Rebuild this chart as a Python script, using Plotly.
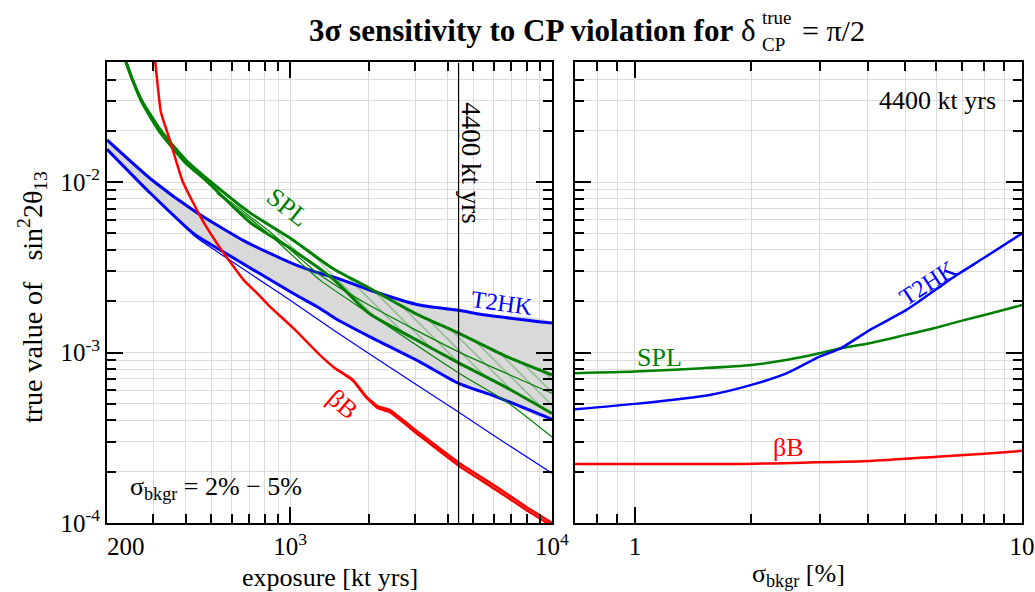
import numpy as np
import plotly.graph_objects as go

FONT = "Liberation Serif, Times New Roman, serif"
BLUE, GREEN, RED = "#0000ff", "#008000", "#ff0000"
GRID = "#dcdcdc"

# ---- left panel: exposure [kt yrs] -> true value of sin^2 2theta13
t2hk_hi_x = [200, 297, 434, 673, 1045, 1298, 1484, 2012, 3116, 4397, 5585, 10000]
t2hk_hi_y = [0.0177, 0.0103, 0.00673, 0.00449, 0.00328, 0.00292, 0.00276, 0.00233, 0.0019, 0.00177, 0.00166, 0.00149]

t2hk_lo_x = [200, 297, 434, 541, 1045, 1298, 1484, 2012, 3116, 4397, 6100, 10000]
t2hk_lo_y = [0.0156, 0.00843, 0.00491, 0.0040, 0.00219, 0.00182, 0.00159, 0.00124, 0.000885, 0.00066, 0.000552, 0.000406]

t2hk_thin_x = [200, 297, 434, 541, 929, 1459, 2012, 4424, 6653, 10000]
t2hk_thin_y = [0.0156, 0.0084, 0.0048, 0.0038, 0.00219, 0.00136, 0.00098, 0.000445, 0.000294, 0.000196]

spl_a_x = [232, 250, 272, 322, 400, 500, 704, 1000, 1462, 2000, 3000, 4400, 6500, 10000]
spl_a_y = [0.055, 0.04, 0.03, 0.02, 0.0135, 0.01, 0.0066, 0.0047, 0.0031, 0.0024, 0.0017, 0.0013, 0.00097, 0.00074]

spl_b_x = [232, 250, 270, 316, 395, 485, 704, 1000, 1462, 2000, 3000, 4400, 6500, 10000]
spl_b_y = [0.055, 0.04, 0.03, 0.02, 0.0132, 0.01, 0.0058, 0.0041, 0.0027, 0.0017, 0.0012, 0.00087, 0.00064, 0.00044]

spl_t1_x = [525, 826, 1298, 2000, 4400, 10000]
spl_t1_y = [0.0088, 0.0052, 0.00286, 0.0019, 0.00101, 0.000577]

spl_t2_x = [525, 826, 1298, 2000, 4400, 6650, 10000]
spl_t2_y = [0.0086, 0.0050, 0.00267, 0.0017, 0.00076, 0.00052, 0.00032]

bb_a_x = [298, 306, 321, 349, 389, 458, 541, 664, 757, 826, 1045, 1298, 1484, 1738, 1954, 2164, 2397, 3118, 4424, 6100, 7930, 10000]
bb_a_y = [0.07, 0.05, 0.0259, 0.0173, 0.0101, 0.00615, 0.0041, 0.00267, 0.00219, 0.0019, 0.00136, 0.00097, 0.00081, 0.000692, 0.000552, 0.000483, 0.000461, 0.000337, 0.000225, 0.000164, 0.000125, 0.0001]

bb_b_x = [1484, 1738, 1954, 2164, 2397, 3118, 4424, 6100, 7930, 10000]
bb_b_y = [0.00081, 0.000685, 0.000545, 0.000472, 0.000448, 0.000326, 0.000216, 0.000157, 0.00012, 0.000096]

exposure_ref = 4400

# ---- right panel: sigma_bkgr [%] at 4400 kt yrs
spl_r_x = [0.7, 1.0, 1.5, 2.0, 2.5, 3.0, 3.4, 4.0, 5.0, 6.0, 7.0, 8.0, 10.0]
spl_r_y = [0.000757, 0.000774, 0.00081, 0.000846, 0.00091, 0.00099, 0.00106, 0.00113, 0.00127, 0.0014, 0.00154, 0.00166, 0.0019]

t2hk_r_x = [0.7, 1.0, 1.56, 2.0, 2.47, 3.0, 3.4, 4.05, 5.03, 6.0, 6.78, 8.0, 10.0]
t2hk_r_y = [0.000465, 0.0005, 0.000564, 0.000646, 0.000757, 0.000947, 0.00106, 0.00136, 0.00178, 0.00235, 0.00285, 0.00361, 0.0050]

bb_r_x = [0.7, 1.0, 1.91, 2.72, 4.05, 6.03, 8.0, 10.0]
bb_r_y = [0.000222, 0.000222, 0.000222, 0.000226, 0.000231, 0.000245, 0.000255, 0.000265]

fig = go.Figure()

# grey T2HK band
fig.add_trace(go.Scatter(x=t2hk_hi_x + t2hk_lo_x[::-1], y=t2hk_hi_y + t2hk_lo_y[::-1],
                         fill="toself", fillcolor="#d9d9d9",
                         line=dict(width=0, shape="spline", smoothing=0.6),
                         mode="lines", hoverinfo="skip"))
# hatched SPL band
fig.add_trace(go.Scatter(x=spl_a_x + spl_b_x[::-1], y=spl_a_y + spl_b_y[::-1],
                         fill="toself", fillcolor="rgba(0,0,0,0)",
                         line=dict(width=0, shape="spline", smoothing=0.6),
                         fillpattern=dict(shape="\\", fgcolor=GREEN, bgcolor="rgba(0,0,0,0)",
                                          size=9, solidity=0.12),
                         mode="lines", hoverinfo="skip"))


def line(x, y, color, width, xa="x", ya="y", smooth=0.6):
    fig.add_trace(go.Scatter(x=x, y=y, mode="lines", xaxis=xa, yaxis=ya,
                             line=dict(color=color, width=width, shape="spline", smoothing=smooth)))


line(t2hk_thin_x, t2hk_thin_y, BLUE, 1.2)
line(t2hk_hi_x, t2hk_hi_y, BLUE, 3)
line(t2hk_lo_x, t2hk_lo_y, BLUE, 3)
line(spl_t1_x, spl_t1_y, GREEN, 1.2)
line(spl_t2_x, spl_t2_y, GREEN, 1.2)
line(spl_a_x, spl_a_y, GREEN, 3)
line(spl_b_x, spl_b_y, GREEN, 3)
line(bb_a_x, bb_a_y, RED, 2.5, smooth=0.4)
line(bb_b_x, bb_b_y, RED, 2.5, smooth=0.4)
line([exposure_ref, exposure_ref], [1e-4, 0.05], "black", 1.2)

line(spl_r_x, spl_r_y, GREEN, 2.5, "x2", "y2")
line(t2hk_r_x, t2hk_r_y, BLUE, 2.5, "x2", "y2")
line(bb_r_x, bb_r_y, RED, 2.5, "x2", "y2")

tickfont = dict(family=FONT, size=25, color="black")
base = dict(type="log", showline=True, linecolor="black", linewidth=2, mirror="ticks",
            ticks="inside", ticklen=16, tickwidth=1.5, tickcolor="black",
            showgrid=True, gridcolor=GRID, gridwidth=1, zeroline=False,
            tickfont=tickfont, automargin=False)


def minor(vals):
    return dict(tickvals=vals, ticks="inside", ticklen=9, tickwidth=1.5, tickcolor="black",
                showgrid=True, gridcolor=GRID, gridwidth=1)


x_minor = [300, 400, 500, 600, 700, 800, 900, 2000, 3000, 4000, 5000, 6000, 7000, 8000, 9000]
y_minor = [k * 1e-4 for k in range(2, 10)] + [k * 1e-3 for k in range(2, 10)] + [k * 1e-2 for k in range(2, 5)]
s_minor = [0.8, 0.9, 2, 3, 4, 5, 6, 7, 8, 9]

fig.update_layout(
    width=1035, height=592, showlegend=False,
    plot_bgcolor="white", paper_bgcolor="white",
    margin=dict(l=107, r=13, t=62, b=69),
    xaxis=dict(base, domain=[0, 0.4863], range=[np.log10(200), 4],
               tickvals=[200, 1000, 10000],
               ticktext=["\u00a0" * 6 + "200", "10<sup>3</sup>", "10<sup>4</sup>"],
               minor=minor(x_minor)),
    yaxis=dict(base, range=[-4, -1.295], tickvals=[1e-4, 1e-3, 1e-2],
               ticktext=["10<sup>-4</sup>", "10<sup>-3</sup>", "10<sup>-2</sup>"],
               minor=minor(y_minor)),
    xaxis2=dict(base, domain=[0.5115, 1], range=[np.log10(0.7), 1], anchor="y2",
                tickvals=[1, 10], ticktext=["1", "10"], minor=minor(s_minor)),
    yaxis2=dict(base, range=[-4, -1.295], anchor="x2", matches="y", showticklabels=False,
                tickvals=[1e-4, 1e-3, 1e-2], minor=minor(y_minor)),
)


def label(text, x, y, color, size=26, angle=0, xa="x", ya="y", xanchor="center"):
    fig.add_annotation(text=text, x=np.log10(x), y=np.log10(y), xref=xa, yref=ya,
                       showarrow=False, textangle=angle, xanchor=xanchor,
                       font=dict(family=FONT, size=size, color=color))


label("SPL", 980, 0.00708, GREEN, angle=38)
label("T2HK", 6420, 0.00195, BLUE, size=24, angle=8)
label("βB", 1589, 0.000493, RED, angle=40)
label("4400 kt yrs", 4932, 0.013, "black", size=27, angle=90)
label("σ<sub>bkgr</sub> = 2% − 5%", 240, 0.00016, "black", xanchor="left")
label("4400 kt yrs", 8.67, 0.0303, "black", xa="x2", ya="y2", xanchor="right")
label("SPL", 1.16, 0.00093, GREEN, xa="x2", ya="y2")
label("T2HK", 5.71, 0.00256, BLUE, size=24, angle=-33, xa="x2", ya="y2")
label("βB", 2.5, 0.000279, RED, xa="x2", ya="y2")


def paper(text, x, y, size, xanchor="center", angle=0):
    fig.add_annotation(text=text, x=x, y=y, xref="paper", yref="paper", showarrow=False,
                       xanchor=xanchor, yanchor="middle", textangle=angle,
                       font=dict(family=FONT, size=size, color="black"))


paper("<b>3σ sensitivity to CP violation for</b> δ", 0.7115, 1.069, 31, xanchor="right")
paper("true", 0.7137, 1.0976, 19, xanchor="left")
paper("CP", 0.7137, 1.0369, 19, xanchor="left")
paper("= π/2", 0.7574, 1.069, 30, xanchor="left")
paper("true value of\u00a0\u00a0\u00a0sin<sup>2</sup>2θ<sub>13</sub>", -0.082, 0.49, 28, angle=-90)
paper("exposure [kt yrs]", 0.2432, -0.1193, 26)
paper("σ<sub>bkgr</sub> [%]", 0.7557, -0.1128, 26)

# the page body keeps its default 8px margin otherwise
fig.write_html("out.html", config={"displayModeBar": False},
               post_script="document.body.style.margin='0';document.body.style.overflow='hidden';")
